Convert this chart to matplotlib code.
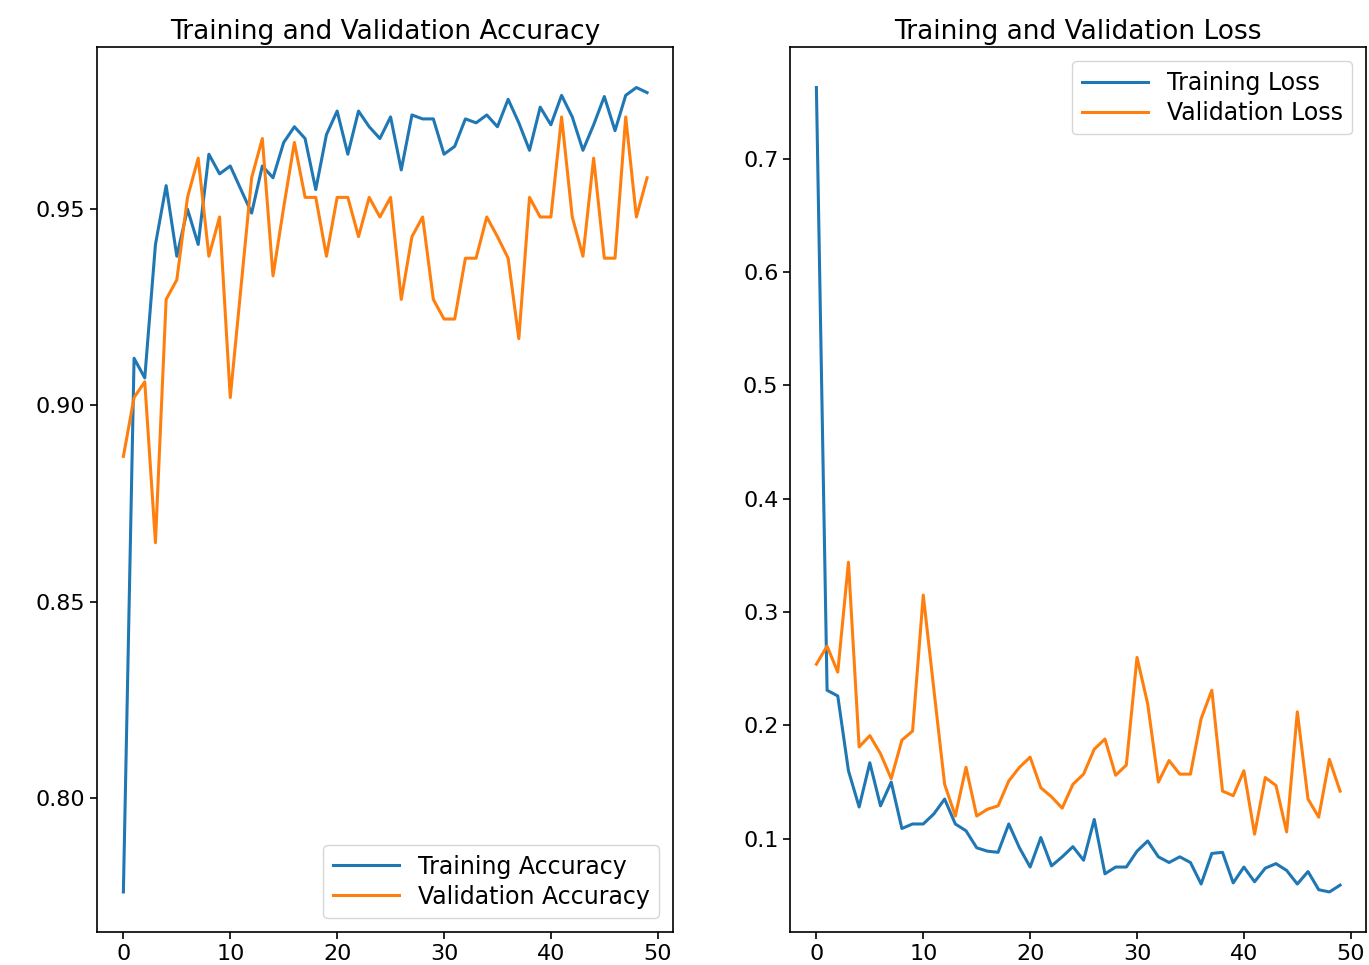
import numpy as np
import matplotlib
matplotlib.use('Agg')
import matplotlib.pyplot as plt

# 训练过程记录 (50 个 epoch)
acc = [0.776, 0.912, 0.907, 0.941, 0.956, 0.938, 0.950, 0.941, 0.964, 0.959,
       0.961, 0.955, 0.949, 0.961, 0.958, 0.967, 0.971, 0.968, 0.955, 0.969,
       0.975, 0.964, 0.975, 0.971, 0.968, 0.9735, 0.960, 0.974, 0.973, 0.973,
       0.964, 0.966, 0.973, 0.972, 0.974, 0.971, 0.978, 0.972, 0.965, 0.976,
       0.9715, 0.979, 0.9735, 0.965, 0.9715, 0.9787, 0.970, 0.979, 0.981, 0.9797]
val_acc = [0.887, 0.902, 0.906, 0.865, 0.927, 0.932, 0.953, 0.963, 0.938, 0.948,
           0.902, 0.930, 0.958, 0.968, 0.933, 0.9505, 0.967, 0.953, 0.953, 0.938,
           0.953, 0.953, 0.943, 0.953, 0.948, 0.953, 0.927, 0.943, 0.948, 0.927,
           0.922, 0.922, 0.9375, 0.9375, 0.948, 0.943, 0.9375, 0.917, 0.953, 0.948,
           0.948, 0.9735, 0.948, 0.938, 0.963, 0.9375, 0.9375, 0.9735, 0.948, 0.958]
loss = [0.763, 0.231, 0.226, 0.160, 0.128, 0.167, 0.129, 0.150, 0.109, 0.113,
        0.113, 0.122, 0.135, 0.113, 0.107, 0.092, 0.089, 0.088, 0.113, 0.092,
        0.075, 0.101, 0.076, 0.084, 0.093, 0.081, 0.117, 0.069, 0.075, 0.075,
        0.089, 0.098, 0.084, 0.079, 0.084, 0.079, 0.060, 0.087, 0.088, 0.061,
        0.075, 0.062, 0.074, 0.078, 0.072, 0.060, 0.071, 0.055, 0.053, 0.059]
val_loss = [0.254, 0.270, 0.247, 0.344, 0.181, 0.191, 0.175, 0.153, 0.187, 0.195,
            0.315, 0.231, 0.148, 0.120, 0.163, 0.120, 0.126, 0.129, 0.151, 0.163,
            0.172, 0.145, 0.137, 0.127, 0.148, 0.157, 0.179, 0.188, 0.156, 0.165,
            0.260, 0.219, 0.150, 0.169, 0.157, 0.157, 0.206, 0.231, 0.142, 0.138,
            0.160, 0.104, 0.154, 0.147, 0.106, 0.212, 0.135, 0.119, 0.170, 0.142]

epochs_range = range(len(acc))

plt.rcParams['font.size'] = 16
plt.rcParams['axes.linewidth'] = 1.2
plt.rcParams['xtick.major.size'] = 5
plt.rcParams['ytick.major.size'] = 5
plt.rcParams['xtick.major.width'] = 1.2
plt.rcParams['ytick.major.width'] = 1.2

plt.figure(figsize=(13.69, 9.65), dpi=100)

# 准确率
plt.subplot(1, 2, 1)
plt.plot(epochs_range, acc, label='Training Accuracy', linewidth=2.2)
plt.plot(epochs_range, val_acc, label='Validation Accuracy', linewidth=2.2)
plt.legend(loc='lower right', fontsize=17, handlelength=2.8, labelspacing=0.25,
           borderaxespad=0.6)
plt.title('Training and Validation Accuracy', fontsize=19)

# 损失
plt.subplot(1, 2, 2)
plt.plot(epochs_range, loss, label='Training Loss', linewidth=2.2)
plt.plot(epochs_range, val_loss, label='Validation Loss', linewidth=2.2)
plt.legend(loc='upper right', fontsize=17, handlelength=2.8, labelspacing=0.25,
           borderaxespad=0.6)
plt.title('Training and Validation Loss', fontsize=19)

plt.subplots_adjust(left=0.071, right=0.998, top=0.951, bottom=0.034, wspace=0.203)
plt.savefig('out.png', dpi=100)
